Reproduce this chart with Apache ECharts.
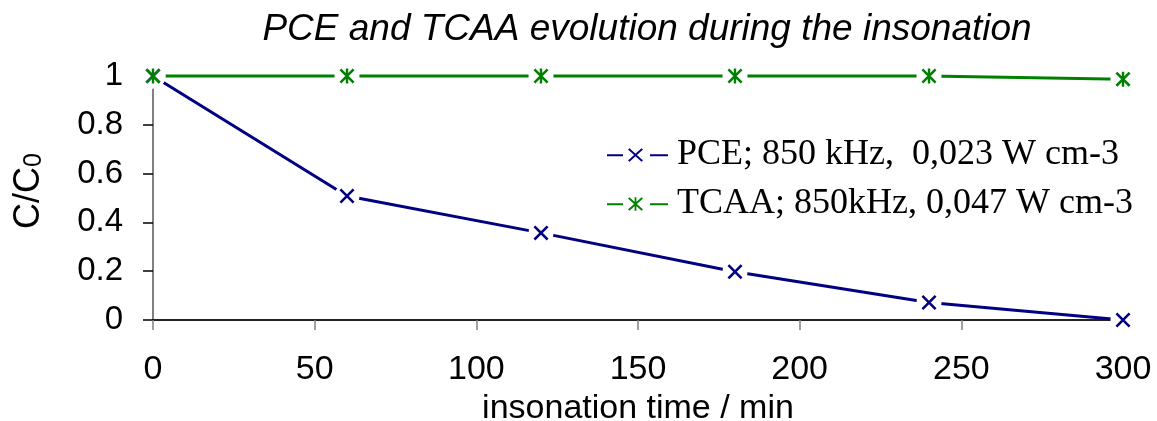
<!DOCTYPE html>
<html>
<head>
<meta charset="utf-8">
<script src="https://cdn.jsdelivr.net/npm/echarts@6/dist/echarts.min.js"></script>
<style>html,body{margin:0;padding:0;background:#fff;}#c{width:1157px;height:421px;}</style>
</head>
<body>
<div id="c"></div>
<script>
const times = [0, 60, 120, 180, 240, 300];
const pce = [1, 0.508, 0.357, 0.198, 0.072, 0.0];
const tcaa = [1, 1, 1, 1, 1, 0.987];
const xTicks = [0, 50, 100, 150, 200, 250, 300];
const yTicks = [0, 0.2, 0.4, 0.6, 0.8, 1];
const pceName = 'PCE; 850 kHz,  0,023 W cm-3';
const tcaaName = 'TCAA; 850kHz, 0,047 W cm-3';
const titleText = 'PCE and TCAA evolution during the insonation';

const NAVY = '#000080', GREEN = '#008000';
const xSym = 'path://M0,1.2 L1.2,0 L10,8.8 L8.8,10 Z M8.8,0 L10,1.2 L1.2,10 L0,8.8 Z';
const starSym = 'path://M0,1.2 L1.2,0 L10,8.8 L8.8,10 Z M8.8,0 L10,1.2 L1.2,10 L0,8.8 Z M4.2,0 L5.8,0 L5.8,10 L4.2,10 Z';
const legX = 'path://M0,6 L16,6 L16,8 L0,8 Z M21,1.3 L22.5,0 L36,12.3 L34.5,13.6 Z M34.5,0 L36,1.3 L22.5,13.6 L21,12.3 Z M43,6 L61,6 L61,8 L43,8 Z';
const legStar = 'path://M0,6 L16,6 L16,8 L0,8 Z M21,1.3 L22.5,0 L36,12.3 L34.5,13.6 Z M34.5,0 L36,1.3 L22.5,13.6 L21,12.3 Z M27.6,0 L29.4,0 L29.4,13.6 L27.6,13.6 Z M43,6 L61,6 L61,8 L43,8 Z';

const pts = (ys) => times.map((t, i) => [t, ys[i]]);

const chart = echarts.init(document.getElementById('c'), null, {renderer: 'canvas'});
chart.setOption({
  animation: false,
  backgroundColor: '#fff',
  title: {
    text: titleText,
    left: 642, top: 6, textAlign: 'center',
    textStyle: {fontFamily: 'Liberation Sans, Arial, sans-serif', fontStyle: 'italic', fontWeight: 'normal', fontSize: 37, color: '#000'}
  },
  grid: {left: 153, right: 34, top: 76, bottom: 101, outerBoundsMode: 'none', containLabel: false},
  legend: {
    orient: 'vertical', left: 602, top: 132,
    itemWidth: 61, itemHeight: 14, itemGap: 13,
    data: [{name: pceName, icon: legX}, {name: tcaaName, icon: legStar}],
    textStyle: {fontFamily: 'Liberation Serif, Times New Roman, serif', fontSize: 36, color: '#000', lineHeight: 35, padding: [0, 0, 0, 4]},
    selectedMode: false
  },
  xAxis: {
    type: 'value', min: 0, max: 300, interval: 50,
    name: 'insonation time / min', nameLocation: 'middle', nameGap: 66,
    nameTextStyle: {fontFamily: 'Liberation Sans, Arial, sans-serif', fontSize: 34, color: '#000'},
    axisLine: {show: true, lineStyle: {color: '#222', width: 2}},
    axisTick: {show: true, length: 10, lineStyle: {color: '#808080', width: 1.5}},
    axisLabel: {fontFamily: 'Liberation Sans, Arial, sans-serif', fontSize: 34, color: '#000', margin: 33,
      formatter: (v) => xTicks.includes(v) ? String(v) : ''},
    splitLine: {show: false}
  },
  yAxis: {
    type: 'value', min: 0, max: 1, interval: 0.2,
    name: '{a|C/C}{b|0}', nameLocation: 'middle', nameGap: 106,
    nameTextStyle: {padding: [0, 0, 0, 14], rich: {
      a: {fontFamily: 'Liberation Sans, Arial, sans-serif', fontSize: 36, color: '#000', lineHeight: 40, verticalAlign: 'bottom'},
      b: {fontFamily: 'Liberation Sans, Arial, sans-serif', fontSize: 25, color: '#000', lineHeight: 40, verticalAlign: 'bottom'}
    }},
    axisLine: {show: true, lineStyle: {color: '#808080', width: 2}},
    axisTick: {show: true, length: 10, lineStyle: {color: '#000', width: 1.5}},
    axisLabel: {fontFamily: 'Liberation Sans, Arial, sans-serif', fontSize: 33, color: '#000', margin: 30,
      formatter: (v) => { const m = yTicks.find(t => Math.abs(t - v) < 1e-9); return m === undefined ? '' : String(m); }},
    splitLine: {show: false}
  },
  series: [
    {name: pceName, type: 'line', data: pts(pce), symbol: 'none', clip: false, z: 2,
      lineStyle: {color: NAVY, width: 3}, itemStyle: {color: NAVY}},
    {name: tcaaName, type: 'line', data: pts(tcaa), symbol: 'none', clip: false, z: 2,
      lineStyle: {color: GREEN, width: 3}, itemStyle: {color: GREEN}},
    {name: 'halo1', type: 'scatter', data: pts(pce), symbol: 'circle', symbolSize: 25, clip: false, z: 3, silent: true,
      itemStyle: {color: '#ffffff', opacity: 1}},
    {name: 'halo2', type: 'scatter', data: pts(tcaa), symbol: 'circle', symbolSize: 25, clip: false, z: 3, silent: true,
      itemStyle: {color: '#ffffff', opacity: 1}},
    {name: 'm1', type: 'scatter', data: pts(pce), symbol: xSym, symbolSize: 15, clip: false, z: 4, silent: true,
      itemStyle: {color: NAVY, opacity: 1}},
    {name: 'm2', type: 'scatter', data: pts(tcaa), symbol: starSym, symbolSize: 15, clip: false, z: 4, silent: true,
      itemStyle: {color: GREEN, opacity: 1}}
  ]
});
</script>
</body>
</html>
